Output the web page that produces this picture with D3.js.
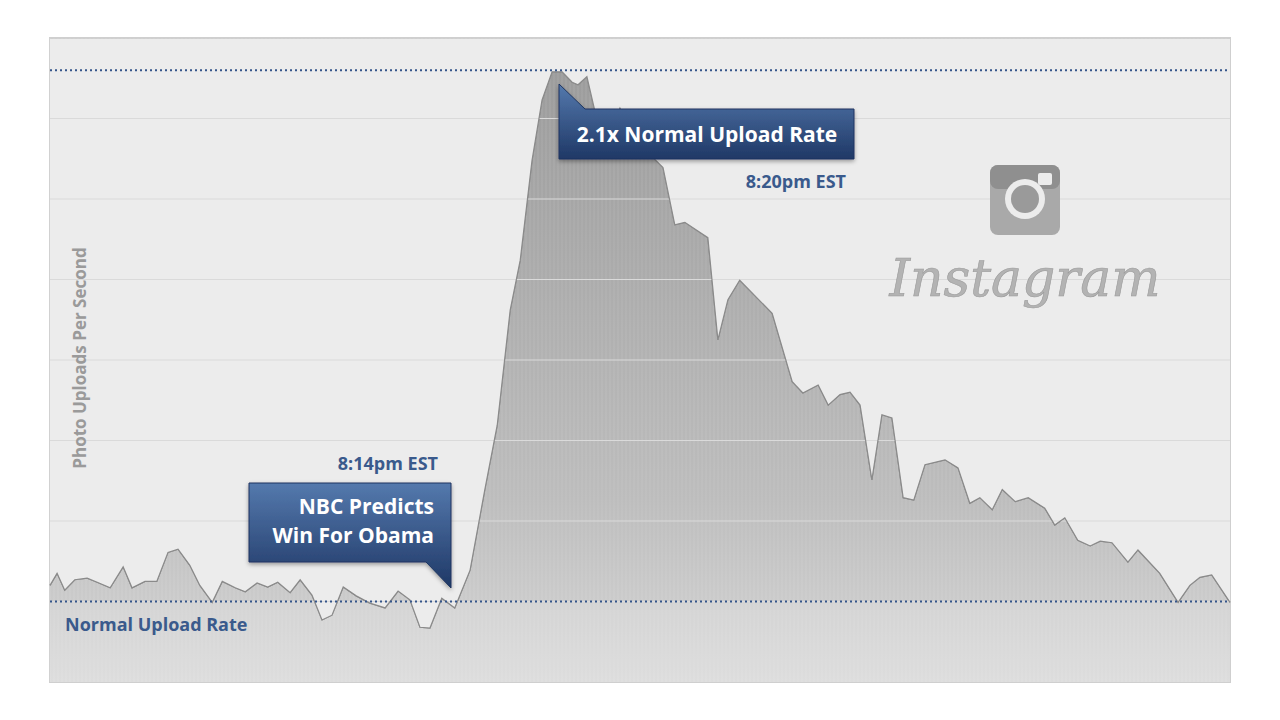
<!DOCTYPE html>
<html><head><meta charset="utf-8">
<script src="https://cdn.jsdelivr.net/npm/d3@7"></script>
<style>body{margin:0;background:#fff;font-family:"Open Sans",Lato,sans-serif}</style>
</head><body><svg id="c" width="1280" height="720"></svg>
<script>
const times=[0,1.2,2.5,4.2,6.3,8,10.2,12.4,13.9,16.1,18.1,20,21.7,23.7,25.4,27.5,29.2,31.4,33.1,35.1,36.9,38.6,40.7,42.4,44.4,46.1,47.8,49.7,51.9,54.2,56.8,59,61,62.7,64.4,66.4,68.6,71.2,73.7,75.8,78,79.7,81.7,83.4,85.1,86.8,88.5,89.5,91,92.9,94.9,96.6,98.6,101.7,103.9,105.9,107.6,111.5,113.2,114.9,116.9,122.4,125.8,127.6,130.2,131.9,133.9,135.6,137.3,139.3,141,142.7,144.6,146.4,148.3,151.7,153.9,155.9,157.6,159.7,161.4,163.6,165.8,168.6,170.3,172,174.2,176.3,178,180,182.7,184.4,188.1,191.2,193.2,194.9,196.9,200];
const uploads=[1.20,1.35,1.14,1.27,1.29,1.24,1.17,1.43,1.17,1.25,1.25,1.61,1.65,1.45,1.20,0.99,1.25,1.17,1.12,1.23,1.18,1.24,1.11,1.27,1.08,0.77,0.83,1.18,1.07,0.98,0.92,1.13,1.02,0.68,0.67,1.04,0.92,1.39,2.39,3.19,4.62,5.24,6.48,7.23,7.58,7.58,7.45,7.42,7.52,6.92,6.86,7.13,6.86,6.55,6.39,5.68,5.71,5.52,4.25,4.75,4.99,4.58,3.73,3.59,3.69,3.44,3.57,3.60,3.44,2.51,3.32,3.28,2.29,2.26,2.70,2.76,2.66,2.22,2.29,2.14,2.39,2.24,2.29,2.16,1.95,2.04,1.76,1.69,1.75,1.73,1.49,1.64,1.35,0.99,1.20,1.30,1.33,0.99];
const gridValues=[1,2,3,4,5,6,7];
const normalRate=1.0, peakRate=7.6;
const labels={y:"Photo Uploads Per Second",normal:"Normal Upload Rate",t1:"8:14pm EST",c1:["NBC Predicts","Win For Obama"],t2:"8:20pm EST",c2:"2.1x Normal Upload Rate",brand:"Instagram"};

const svg=d3.select("#c");
const L=50,R=1230,T=38,B=682;
const x=d3.scaleLinear().domain([0,200]).range([L,R]);
const y=d3.scaleLinear().domain([0,8]).range([B,T]);
const defs=svg.append("defs");
const g1=defs.append("linearGradient").attr("id","af").attr("x1",0).attr("y1",0).attr("x2",0).attr("y2",1);
g1.append("stop").attr("offset","0%").attr("stop-color","#9c9c9c");
g1.append("stop").attr("offset","70%").attr("stop-color","#bdbdbd");
g1.append("stop").attr("offset","100%").attr("stop-color","#d6d6d6");
const pat=defs.append("pattern").attr("id","st").attr("width",4).attr("height",4).attr("patternUnits","userSpaceOnUse");
pat.append("rect").attr("width",4).attr("height",4).attr("fill","url(#af)");
pat.append("rect").attr("width",1).attr("height",4).attr("fill","#fff").attr("opacity",0.12);
const bg=defs.append("linearGradient").attr("id","bx").attr("x1",0).attr("y1",0).attr("x2",0).attr("y2",1);
bg.append("stop").attr("offset","0%").attr("stop-color","#5479ad");
bg.append("stop").attr("offset","100%").attr("stop-color","#1f3866");
const sh=defs.append("filter").attr("id","sh").attr("x","-10%").attr("y","-10%").attr("width","130%").attr("height","140%");
sh.append("feDropShadow").attr("dx",0).attr("dy",2).attr("stdDeviation",2).attr("flood-opacity",0.35);

svg.append("rect").attr("x",L).attr("y",T).attr("width",R-L).attr("height",B-T).attr("fill","#ececec").attr("stroke","#cfcfcf").attr("stroke-width",2);
svg.selectAll(".grid").data(gridValues).join("line").attr("x1",L).attr("x2",R).attr("y1",d=>y(d)).attr("y2",d=>y(d)).attr("stroke","#dadada");

const data=times.map((t,i)=>({t,v:uploads[i]}));
svg.append("path").datum(data).attr("fill","url(#af)").attr("d",d3.area().x(d=>x(d.t)).y0(B).y1(d=>y(d.v)));
svg.append("path").datum(data).attr("fill","none").attr("stroke","#8a8a8a").attr("stroke-width",1.2).attr("d",d3.line().x(d=>x(d.t)).y(d=>y(d.v)));
// stripes
svg.selectAll(".sv").data(d3.range(L,R,4)).join("line").attr("x1",d=>d).attr("x2",d=>d).attr("y1",B).attr("y2",T).attr("stroke","#fff").attr("opacity",0.1);
svg.append("rect").attr("x",L).attr("y",y(normalRate)).attr("width",R-L).attr("height",B-y(normalRate)).attr("fill","#fff").attr("opacity",0.18);
// clip stripes above area: cover by redrawing bg above line
svg.append("path").datum(data).attr("fill","#ececec").attr("d",d3.area().x(d=>x(d.t)).y0(T+1).y1(d=>y(d.v)));
svg.selectAll(".grid2").data(gridValues).join("line").attr("x1",L).attr("x2",R).attr("y1",d=>y(d)).attr("y2",d=>y(d)).attr("stroke","#dadada");
svg.append("path").datum(data).attr("fill","#a9a9a9").attr("opacity",0.0).attr("d",d3.area().x(d=>x(d.t)).y0(B).y1(d=>y(d.v)));
svg.append("path").datum(data).attr("fill","none").attr("stroke","#8a8a8a").attr("stroke-width",1.2).attr("d",d3.line().x(d=>x(d.t)).y(d=>y(d.v)));

[normalRate,peakRate].forEach(v=>svg.append("line").attr("x1",L).attr("x2",R).attr("y1",y(v)).attr("y2",y(v)).attr("stroke","#34558a").attr("stroke-width",2).attr("stroke-dasharray","2,3"));

const blue="#3a5a8c";
svg.append("text").attr("x",65).attr("y",y(normalRate)+29).attr("fill",blue).attr("font-size",18).attr("font-weight",700).text(labels.normal);
svg.append("text").attr("transform",`translate(86,${(T+B)/2-2}) rotate(-90)`).attr("text-anchor","middle").attr("fill","#9a9a9a").attr("font-size",17).attr("font-weight",700).text(labels.y);

// callout 1
svg.append("path").attr("d","M249,483 H451 V588 L426,562 H249 Z").attr("fill","url(#bx)").attr("filter","url(#sh)").attr("stroke","#1e3560");
svg.append("text").attr("x",434).attr("y",514).attr("text-anchor","end").attr("fill","#fff").attr("font-size",21).attr("font-weight",700).text(labels.c1[0]);
svg.append("text").attr("x",434).attr("y",543).attr("text-anchor","end").attr("fill","#fff").attr("font-size",21).attr("font-weight",700).text(labels.c1[1]);
svg.append("text").attr("x",438).attr("y",470).attr("text-anchor","end").attr("fill",blue).attr("font-size",18).attr("font-weight",700).text(labels.t1);
// callout 2
svg.append("path").attr("d","M559,84 L585,109 H854 V159 H559 Z").attr("fill","url(#bx)").attr("filter","url(#sh)").attr("stroke","#1e3560");
svg.append("text").attr("x",707).attr("y",142).attr("text-anchor","middle").attr("fill","#fff").attr("font-size",21).attr("font-weight",700).text(labels.c2);
svg.append("text").attr("x",846).attr("y",188).attr("text-anchor","end").attr("fill",blue).attr("font-size",18).attr("font-weight",700).text(labels.t2);

// Instagram logo
const lg=svg.append("g").attr("transform","translate(990,165)");
lg.append("rect").attr("width",70).attr("height",70).attr("rx",8).attr("fill","#a9a9a9");
lg.append("rect").attr("x",0).attr("y",0).attr("width",70).attr("height",24).attr("rx",8).attr("fill","#8f8f8f");
lg.append("circle").attr("cx",35).attr("cy",34).attr("r",20).attr("fill","#ececec");
lg.append("circle").attr("cx",35).attr("cy",34).attr("r",14).attr("fill","#9a9a9a");
lg.append("rect").attr("x",48).attr("y",8).attr("width",14).attr("height",12).attr("rx",2).attr("fill","#ececec");
svg.append("text").attr("x",1025).attr("y",296).attr("text-anchor","middle").attr("fill","#b3b3b3").attr("font-size",52).attr("font-style","italic").attr("font-family","'DejaVu Serif',serif").attr("stroke","#9a9a9a").attr("stroke-width",0.6).text(labels.brand);
</script></body></html>
